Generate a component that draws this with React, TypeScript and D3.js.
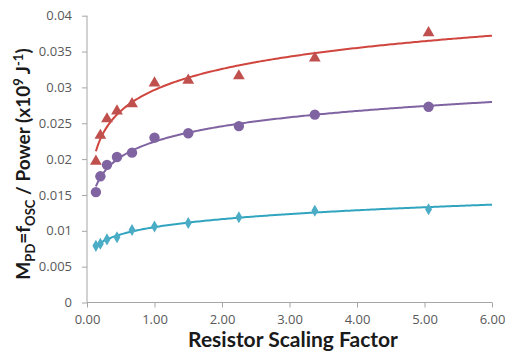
import {useRef, useEffect} from "react";
import * as d3 from "d3";

// resistor scaling factor (x) for each measured point
const scaling = [0.132, 0.198, 0.296, 0.444, 0.667, 1.0, 1.5, 2.25, 3.375, 5.06];
const redVals = [0.0197, 0.0233, 0.0256, 0.0267, 0.0277, 0.0306, 0.0310, 0.0316, 0.0341, 0.0376];
const purpleVals = [0.0154, 0.0176, 0.0192, 0.0203, 0.0209, 0.0230, 0.0236, 0.0246, 0.0262, 0.0273];
const cyanVals = [0.0079, 0.0082, 0.0088, 0.0091, 0.0101, 0.0106, 0.0111, 0.0119, 0.0128, 0.0130];
const yTicks = [0, 0.005, 0.01, 0.015, 0.02, 0.025, 0.03, 0.035, 0.04];
const xTicks = [0, 1, 2, 3, 4, 5, 6];

const series = [
  {name: "red", values: redVals, color: "#C0504D", line: "#D0463F", marker: "triangle", fit: "log"},
  {name: "purple", values: purpleVals, color: "#8064A2", line: "#8064A2", marker: "circle", fit: "log"},
  {name: "cyan", values: cyanVals, color: "#4BACC6", line: "#31A5C0", marker: "diamond", fit: "power"},
];

// Excel-style trendlines: least squares on ln(x) (log) or ln(x), ln(y) (power)
function trend(xs: number[], ys: number[], kind: string) {
  const lx = xs.map(Math.log);
  const ty = kind === "power" ? ys.map(Math.log) : ys;
  const mx = d3.mean(lx)!, my = d3.mean(ty)!;
  const b = d3.sum(lx, (v, i) => (v - mx) * (ty[i] - my)) / d3.sum(lx, v => (v - mx) ** 2);
  const a = my - b * mx;
  return kind === "power"
    ? (x: number) => Math.exp(a) * Math.pow(x, b)
    : (x: number) => a + b * Math.log(x);
}

export default function App() {
  const root = useRef<SVGSVGElement>(null);
  const width = 505, height = 362;

  useEffect(() => {
    const svg = d3.select(root.current);
    svg.selectAll("*").remove();

    const x = d3.scaleLinear([0, 6], [87, 492]);
    const y = d3.scaleLinear([0, 0.04], [302.5, 15.7]);
    const font = "'Open Sans', 'Noto Sans', sans-serif";
    const titleFont = "Lato, 'Open Sans', sans-serif";

    // y axis
    const ya = svg.append("g")
      .attr("transform", "translate(" + x(0) + ",0)")
      .call(d3.axisLeft(y).tickValues(yTicks).tickSize(5).tickPadding(10)
        .tickFormat(d => d === 0 ? "0" : String(+d)));
    ya.select(".domain").attr("stroke", "#A6A6A6").attr("d", "M0," + y(0.04) + "V" + y(0));
    ya.selectAll(".tick line").attr("stroke", "#A6A6A6");
    ya.selectAll(".tick text").attr("fill", "#595959").style("font", "13px " + font);

    // x axis
    const xa = svg.append("g")
      .attr("transform", "translate(0," + y(0) + ")")
      .call(d3.axisBottom(x).tickValues(xTicks).tickSize(5).tickPadding(7)
        .tickFormat(d3.format(".2f")));
    xa.select(".domain").attr("stroke", "#A6A6A6").attr("d", "M" + x(0) + ",0H" + x(6));
    xa.selectAll(".tick line").attr("stroke", "#A6A6A6");
    xa.selectAll(".tick text").attr("fill", "#595959").style("font", "13px " + font);

    const line = d3.line<[number, number]>().x(d => x(d[0])).y(d => y(d[1]));

    series.forEach(s => {
      const f = trend(scaling, s.values, s.fit);
      const pts: [number, number][] = d3.range(0, 201).map(i => {
        const xv = scaling[0] + (6 - scaling[0]) * i / 200;
        return [xv, f(xv)];
      });
      svg.append("path")
        .attr("d", line(pts))
        .attr("fill", "none")
        .attr("stroke", s.line)
        .attr("stroke-width", 2);

      const sym = s.marker === "triangle" ? d3.symbolTriangle
        : s.marker === "circle" ? d3.symbolCircle : d3.symbolDiamond;
      const size = s.marker === "triangle" ? 60 : s.marker === "circle" ? 85 : 42;
      svg.append("g").selectAll("path")
        .data(scaling)
        .enter()
        .append("path")
        .attr("transform", (d, i) => "translate(" + x(d) + "," + y(s.values[i]) + ")")
        .attr("d", d3.symbol(sym, size)())
        .attr("fill", s.color);
    });

    // axis titles
    svg.append("text")
      .attr("transform", "translate(30,164) rotate(-90)")
      .attr("text-anchor", "middle")
      .attr("fill", "#1a1a1a")
      .style("font", "bold 19px " + titleFont)
      .html("M<tspan dy='5' font-size='13'>PD</tspan><tspan dy='-5'>=f</tspan><tspan dy='5' font-size='13'>OSC</tspan><tspan dy='-5'> / Power (x10</tspan><tspan dy='-7' font-size='13'>9</tspan><tspan dy='7'> J</tspan><tspan dy='-7' font-size='13'>-1</tspan><tspan dy='7'>)</tspan>");

    svg.append("text")
      .attr("x", 293)
      .attr("y", 347)
      .attr("text-anchor", "middle")
      .attr("fill", "#1a1a1a")
      .style("font", "bold 21px " + titleFont)
      .text("Resistor Scaling Factor");
  }, []);

  return (
    <div style={{position: "absolute", left: 0, top: 0}}>
      <svg ref={root} width={width} height={height} style={{display: "block", background: "#fff"}}></svg>
    </div>
  );
}
